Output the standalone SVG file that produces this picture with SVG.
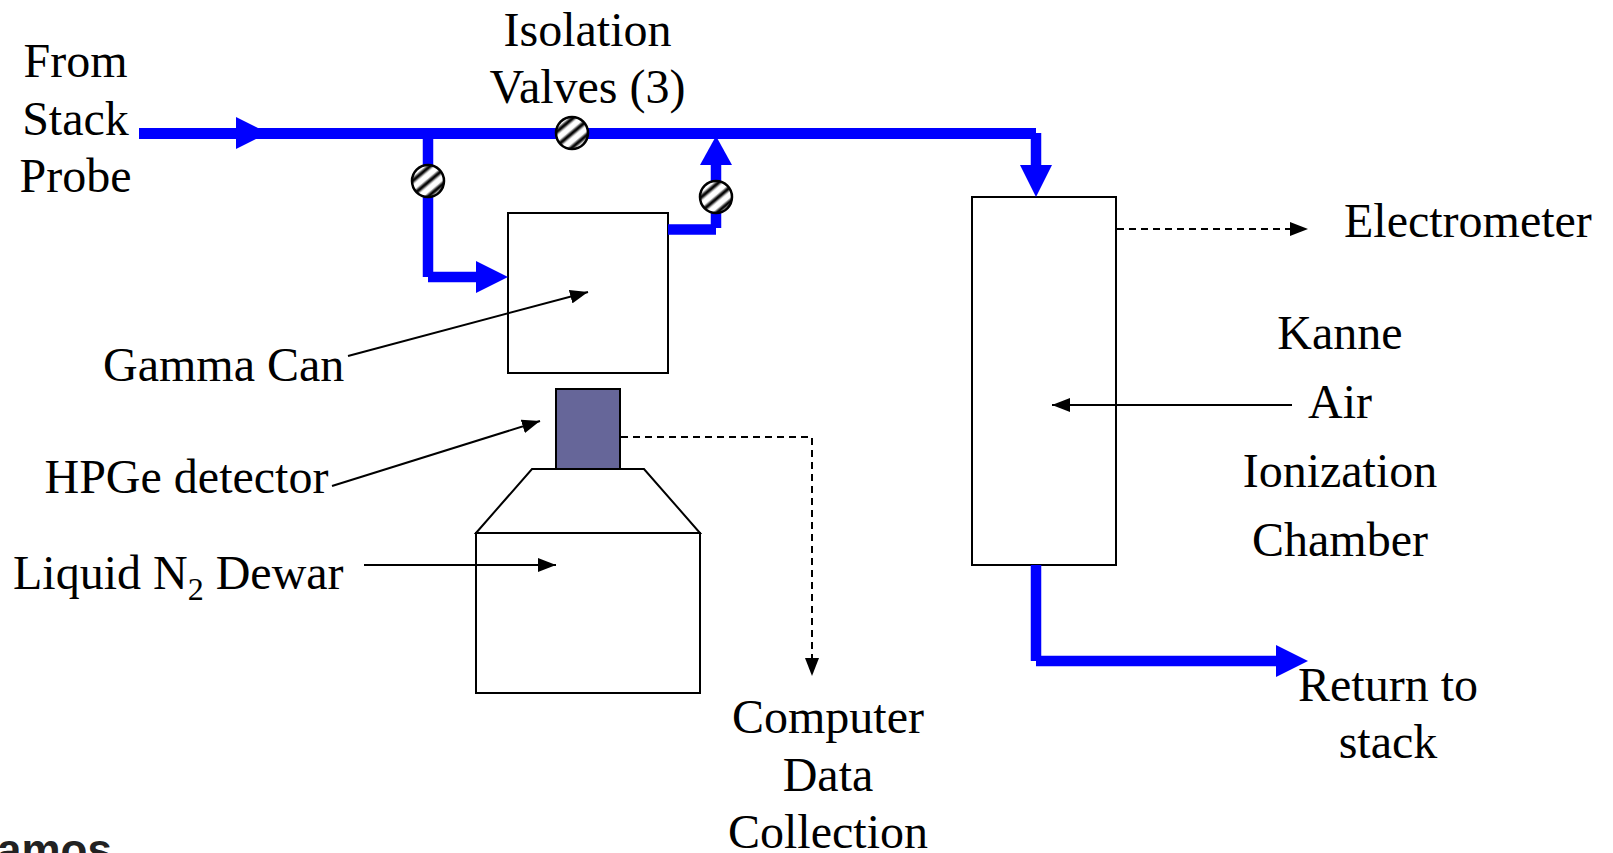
<svg xmlns="http://www.w3.org/2000/svg" width="1613" height="853" viewBox="0 0 1613 853">
<style>
text{font-family:"Liberation Serif","Times New Roman",serif;font-size:48px;fill:#000}
.m{text-anchor:middle}
.logo{font-family:"Liberation Sans",Arial,sans-serif;font-weight:700;font-size:44px;fill:#222}
.box{fill:#fff;stroke:#000;stroke-width:2}
.pipe{fill:none;stroke:#00f;stroke-width:10.5}
.main{stroke-width:11}
.head{fill:#00f}
.thin{fill:none;stroke:#000;stroke-width:2}
.dash{stroke-dasharray:7 5}
.valve{fill:url(#hatch);stroke:#000;stroke-width:2.5}
</style>
<defs>
<linearGradient id="stripe" x1="0" y1="0" x2="0" y2="1">
<stop offset="0" stop-color="#fff"/><stop offset=".4" stop-color="#fff"/><stop offset=".65" stop-color="#000"/><stop offset=".75" stop-color="#000"/><stop offset="1" stop-color="#fff"/>
</linearGradient>
<pattern id="hatch" patternUnits="userSpaceOnUse" width="11" height="11" patternTransform="rotate(-40)">
<rect width="11" height="11" fill="url(#stripe)"/>
</pattern>
<marker id="ah" markerUnits="userSpaceOnUse" markerWidth="18" markerHeight="14" refX="18" refY="7" orient="auto"><path d="M0 0L18 7L0 14z" fill="#000"/></marker>
</defs>
<g id="gamma-can"><rect class="box" x="508" y="213" width="160" height="160"/></g>
<g id="hpge-detector"><rect x="556" y="389" width="64" height="80" fill="#666699" stroke="#000" stroke-width="2"/></g>
<g id="dewar"><path class="box" d="M476 533L532 469H644L700 533z"/><rect class="box" x="476" y="533" width="224" height="160"/></g>
<g id="kanne-chamber"><rect class="box" x="972" y="197" width="144" height="368"/></g>
<g id="connectors">
<path class="pipe main" d="M139 133.500H1036"/>
<path class="pipe" d="M1036 133V170"/>
<path class="head" d="M236 117L268 133L236 149z"/>
<path class="head" d="M1020 165H1052L1036 197z"/>
<path class="pipe" d="M428 133V277"/>
<path class="pipe" d="M428 277H480"/>
<path class="head" d="M476 261L508 277L476 293z"/>
<path class="pipe" d="M668 229.500H716"/>
<path class="pipe" d="M716 228V160"/>
<path class="head" d="M700 165H732L716 136z"/>
<path class="pipe" d="M1036 565V661"/>
<path class="pipe" d="M1036 661H1280"/>
<path class="head" d="M1276 645L1308 661L1276 677z"/>
<path class="thin" marker-end="url(#ah)" d="M348 356L588 292"/>
<path class="thin" marker-end="url(#ah)" d="M332 486L540 421"/>
<path class="thin" marker-end="url(#ah)" d="M364 565H556"/>
<path class="thin" marker-end="url(#ah)" d="M1292 405H1052"/>
<path class="thin dash" marker-end="url(#ah)" d="M1117 229H1308"/>
<path class="thin dash" marker-end="url(#ah)" d="M621 437H812V676"/>
</g>
<g id="valve-1"><circle class="valve" cx="572" cy="133" r="16"/></g>
<g id="valve-2"><circle class="valve" cx="428" cy="181" r="16"/></g>
<g id="valve-3"><circle class="valve" cx="716" cy="197" r="16"/></g>
<g id="labels">
<text class="m" x="75.500" y="77">From</text>
<text class="m" x="75.500" y="135">Stack</text>
<text class="m" x="75.500" y="192">Probe</text>
<text class="m" x="587.500" y="46">Isolation</text>
<text class="m" x="587.500" y="103">Valves (3)</text>
<text x="103" y="381">Gamma Can</text>
<text x="44.500" y="493">HPGe detector</text>
<text x="13" y="589">Liquid N<tspan font-size="32" dy="11">2</tspan><tspan dy="-11"> Dewar</tspan></text>
<text x="1344" y="237">Electrometer</text>
<text class="m" x="1340" y="349">Kanne</text>
<text class="m" x="1340" y="418">Air</text>
<text class="m" x="1340" y="487">Ionization</text>
<text class="m" x="1340" y="556">Chamber</text>
<text class="m" x="1388" y="701">Return to</text>
<text class="m" x="1388" y="758">stack</text>
<text class="m" x="828" y="733">Computer</text>
<text class="m" x="828" y="790.500">Data</text>
<text class="m" x="828" y="848">Collection</text>
<text class="logo" x="-3" y="865">amos</text>
</g>
</svg>
